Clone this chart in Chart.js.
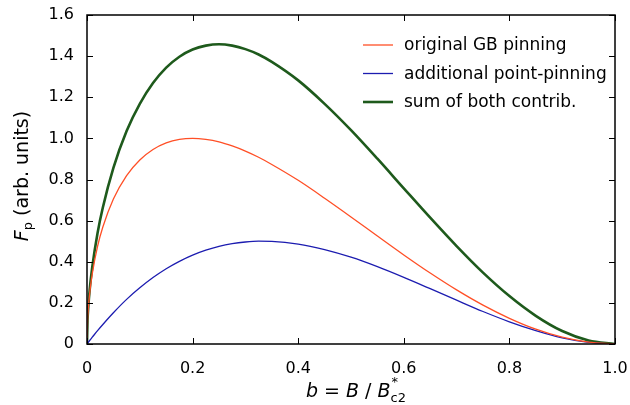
<!DOCTYPE html>
<html>
<head>
<meta charset="utf-8">
<script src="https://cdn.jsdelivr.net/npm/chart.js@4.4.1/dist/chart.umd.min.js"></script>
<style>
  html, body { margin: 0; padding: 0; background: #fff; }
  #wrap { width: 630px; height: 405px; position: relative; }
</style>
</head>
<body>
<div id="wrap"><canvas id="fp-chart"></canvas></div>
<script>
// reduced field b = B / Bc2*
var bVals = [0, 0.001, 0.0025, 0.005, 0.01, 0.02, 0.03, 0.05, 0.075, 0.1, 0.125, 0.15, 0.175, 0.2,
  0.225, 0.25, 0.275, 0.3, 0.325, 0.35, 0.4, 0.45, 0.5, 0.55, 0.6, 0.65, 0.7, 0.75, 0.8, 0.85, 0.9, 0.95, 1.0];

// pinning force, arb. units
var gbPinning = [0, 0.110, 0.174, 0.245, 0.342, 0.475, 0.569, 0.705, 0.819, 0.895, 0.946, 0.978, 0.995, 1.000,
  0.995, 0.983, 0.963, 0.938, 0.908, 0.873, 0.796, 0.709, 0.618, 0.525, 0.433, 0.345, 0.263, 0.189, 0.125, 0.072, 0.033, 0.009, 0];
var pointPinning = [0, 0.003, 0.008, 0.017, 0.033, 0.065, 0.095, 0.152, 0.217, 0.273, 0.323, 0.366, 0.402, 0.432,
  0.456, 0.475, 0.488, 0.496, 0.500, 0.499, 0.486, 0.459, 0.422, 0.376, 0.324, 0.269, 0.213, 0.158, 0.108, 0.065, 0.030, 0.008, 0];
var sumPinning = [0, 0.113, 0.182, 0.262, 0.375, 0.540, 0.664, 0.857, 1.036, 1.168, 1.269, 1.344, 1.397, 1.432,
  1.451, 1.458, 1.451, 1.434, 1.408, 1.372, 1.282, 1.168, 1.040, 0.901, 0.757, 0.614, 0.476, 0.347, 0.233, 0.137, 0.063, 0.017, 0];

var seriesNames = ["original GB pinning", "additional point-pinning", "sum of both contrib."];
var xTickLabels = ["0", "0.2", "0.4", "0.6", "0.8", "1.0"];
var yTickLabels = ["0", "0.2", "0.4", "0.6", "0.8", "1.0", "1.2", "1.4", "1.6"];

var FONT = "'DejaVu Sans', sans-serif";

function pts(ys) {
  return bVals.map(function (b, i) { return { x: b, y: ys[i] }; });
}

// frame, inward ticks on all four sides, axis titles and key
var decorations = {
  id: "decorations",
  afterDraw: function (chart) {
    var ctx = chart.ctx;
    var a = chart.chartArea;
    var xs = chart.scales.x, ys = chart.scales.y;
    var tl = 6;
    ctx.save();
    ctx.strokeStyle = "#000";
    ctx.lineWidth = 1.5;
    ctx.strokeRect(a.left, a.top, a.right - a.left, a.bottom - a.top);
    ctx.lineWidth = 1;
    ctx.beginPath();
    xs.ticks.forEach(function (t) {
      var px = Math.round(xs.getPixelForValue(t.value)) + 0.5;
      ctx.moveTo(px, a.bottom); ctx.lineTo(px, a.bottom - tl);
      ctx.moveTo(px, a.top); ctx.lineTo(px, a.top + tl);
    });
    ys.ticks.forEach(function (t) {
      var py = Math.round(ys.getPixelForValue(t.value)) + 0.5;
      ctx.moveTo(a.left, py); ctx.lineTo(a.left + tl, py);
      ctx.moveTo(a.right, py); ctx.lineTo(a.right - tl, py);
    });
    ctx.stroke();

    // x title: b = B / B*c2
    ctx.fillStyle = "#000";
    ctx.textBaseline = "alphabetic";
    ctx.textAlign = "left";
    var parts = [
      { t: "b", f: "italic 19px " + FONT },
      { t: " = ", f: "19px " + FONT },
      { t: "B", f: "italic 19px " + FONT },
      { t: " / ", f: "19px " + FONT },
      { t: "B", f: "italic 19px " + FONT }
    ];
    var w = 0;
    parts.forEach(function (p) { ctx.font = p.f; p.w = ctx.measureText(p.t).width; w += p.w; });
    ctx.font = "13px " + FONT;
    var subW = ctx.measureText("c2").width;
    var x0 = 356 - (w + subW) / 2;
    var base = 397;
    parts.forEach(function (p) { ctx.font = p.f; ctx.fillText(p.t, x0, base); x0 += p.w; });
    ctx.font = "13px " + FONT;
    ctx.fillText("c2", x0, base + 5);
    ctx.fillText("*", x0 + 1, base - 11);

    // y title: Fp (arb. units), rotated
    ctx.save();
    ctx.translate(28, 176);
    ctx.rotate(-Math.PI / 2);
    var yp = [
      { t: "F", f: "italic 19px " + FONT, dy: 0 },
      { t: "p", f: "13px " + FONT, dy: 4 },
      { t: " (arb. units)", f: "19px " + FONT, dy: 0 }
    ];
    var yw = 0;
    yp.forEach(function (p) { ctx.font = p.f; p.w = ctx.measureText(p.t).width; yw += p.w; });
    var yx = -yw / 2;
    yp.forEach(function (p) { ctx.font = p.f; ctx.fillText(p.t, yx, p.dy); yx += p.w; });
    ctx.restore();

    // key
    ctx.textBaseline = "middle";
    ctx.font = "17px " + FONT;
    chart.data.datasets.forEach(function (ds, i) {
      var ly = 45 + i * 28.5;
      ctx.strokeStyle = ds.borderColor;
      ctx.lineWidth = ds.borderWidth;
      ctx.beginPath();
      ctx.moveTo(363, ly); ctx.lineTo(393, ly);
      ctx.stroke();
      ctx.fillStyle = "#000";
      ctx.fillText(ds.label, 404, ly + 1);
    });
    ctx.restore();
  }
};

new Chart(document.getElementById("fp-chart").getContext("2d"), {
  type: "line",
  data: {
    datasets: [{
      label: seriesNames[0],
      data: pts(gbPinning),
      borderColor: "#ff4f26",
      borderWidth: 1.3,
      pointRadius: 0,
      cubicInterpolationMode: "monotone"
    }, {
      label: seriesNames[1],
      data: pts(pointPinning),
      borderColor: "#1c1cb0",
      borderWidth: 1.3,
      pointRadius: 0,
      cubicInterpolationMode: "monotone"
    }, {
      label: seriesNames[2],
      data: pts(sumPinning),
      borderColor: "#1e5a1c",
      borderWidth: 2.6,
      pointRadius: 0,
      cubicInterpolationMode: "monotone"
    }]
  },
  options: {
    responsive: true,
    maintainAspectRatio: false,
    animation: false,
    layout: {
      padding: { top: 15, right: 15, left: 0, bottom: 0 }
    },
    plugins: {
      legend: { display: false },
      tooltip: { enabled: false }
    },
    scales: {
      x: {
        type: "linear",
        min: 0,
        max: 1,
        afterFit: function (s) {
          s.height = 61;
          s.paddingLeft = 0;
          s.paddingRight = 0;
        },
        grid: { display: false, drawTicks: false },
        border: { display: false },
        ticks: {
          stepSize: 0.2,
          padding: 15,
          color: "#000",
          font: { size: 16, family: FONT },
          callback: function (v, i) { return xTickLabels[i]; }
        }
      },
      y: {
        min: 0,
        max: 1.6,
        afterFit: function (s) {
          s.width = 87;
          s.paddingTop = 0;
          s.paddingBottom = 0;
        },
        grid: { display: false, drawTicks: false },
        border: { display: false },
        ticks: {
          stepSize: 0.2,
          padding: 13,
          color: "#000",
          font: { size: 16, family: FONT },
          callback: function (v, i) { return yTickLabels[i]; }
        }
      }
    }
  },
  plugins: [decorations]
});
</script>
</body>
</html>
